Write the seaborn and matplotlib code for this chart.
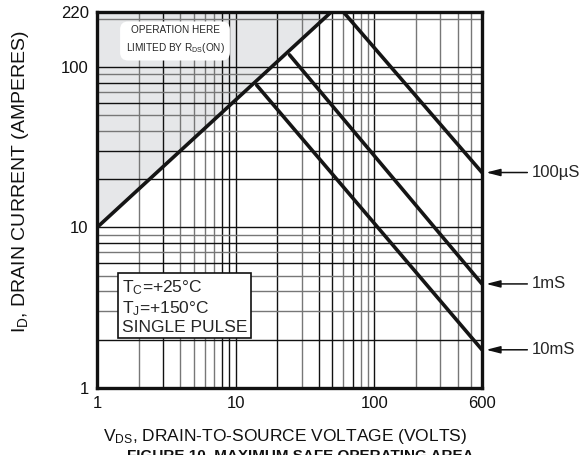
import numpy as np
import pandas as pd
import matplotlib
matplotlib.use("Agg")
import matplotlib.pyplot as plt
import seaborn as sns

# safe operating area boundaries (V_DS in volts, I_D in amperes)
rds_v = [1, 49]
rds_i = [10, 220]
flat_v = [49, 60]
flat_i = [220, 220]
us100_v = [60, 600]
us100_i = [220, 22]
ms1_v = [24.5, 600]
ms1_i = [119, 4.45]
ms10_v = [14.2, 600]
ms10_i = [77, 1.73]

pulse_labels = ["100µS", "1mS", "10mS"]
pulse_end_i = [us100_i[-1], ms1_i[-1], ms10_i[-1]]

x_ticks = [1, 10, 100, 600]
y_ticks = [1, 10, 100, 220]
x_grid = [1, 2, 3, 4, 5, 6, 7, 8, 9, 10, 20, 30, 40, 50, 60, 70, 80, 90,
          100, 200, 300, 400, 500, 600]
y_grid = [1, 2, 3, 4, 5, 6, 7, 8, 9, 10, 20, 30, 40, 50, 60, 70, 80, 90,
          100, 200]

sns.set_theme(style="white")
plt.rcParams["font.family"] = ["Liberation Sans", "DejaVu Sans"]
plt.rcParams["mathtext.fontset"] = "custom"
plt.rcParams["mathtext.rm"] = "Liberation Sans"
plt.rcParams["mathtext.it"] = "Liberation Sans"

fig = plt.figure(figsize=(5.83, 4.55), dpi=100)
ax = fig.add_axes([97 / 583, 1 - 388 / 455, 385 / 583, 376 / 455])
ax.set_xscale("log")
ax.set_yscale("log")
ax.set_xlim(1, 600)
ax.set_ylim(1, 220)

# shaded R_DS(on) limited region
xs = np.geomspace(rds_v[0], rds_v[1], 50)
slope = np.log(rds_i[1] / rds_i[0]) / np.log(rds_v[1] / rds_v[0])
ax.fill_between(xs, rds_i[0] * (xs / rds_v[0]) ** slope, 220,
                color="#e6e7e9", zorder=0.2, lw=0)

# grid (print has a mix of dark and grey rules)
for v in x_grid:
    c = "#111111" if v in (1, 3, 8, 9, 10, 20, 40, 50, 70, 100) else "#777777"
    ax.axvline(v, color=c, lw=1.0, zorder=1)
for v in y_grid:
    c = "#111111" if v in (2, 6, 8, 10, 20, 30, 60, 80, 100) else "#777777"
    ax.axhline(v, color=c, lw=1.0, zorder=1)

lines = [(rds_v, rds_i), (flat_v, flat_i), (us100_v, us100_i),
         (ms1_v, ms1_i), (ms10_v, ms10_i)]
for vv, ii in lines:
    sns.lineplot(x=vv, y=ii, ax=ax, color="#151515", lw=2.6, zorder=3,
                 estimator=None, sort=False)

ax.set_xticks(x_ticks)
ax.set_xticklabels([str(t) for t in x_ticks])
ax.set_yticks(y_ticks)
ax.set_yticklabels([str(t) for t in y_ticks])
ax.minorticks_off()
ax.tick_params(length=0, labelsize=12, colors="#111111", pad=6)
for s in ax.spines.values():
    s.set_linewidth(2.4)
    s.set_color("#111111")
    s.set_zorder(4)

ax.set_xlabel("V$_{DS}$, DRAIN-TO-SOURCE VOLTAGE (VOLTS)", fontsize=12.5,
              color="#111111")
ax.xaxis.set_label_coords(0.489, -0.105)
ax.set_ylabel("I$_D$, DRAIN CURRENT (AMPERES)", fontsize=14, color="#111111")
ax.yaxis.set_label_coords(-0.171, 0.548)

ax.text(0.2026, 0.9255, "OPERATION HERE\nLIMITED BY R$_{DS}$(ON)",
        transform=ax.transAxes, ha="center", va="center", fontsize=7.2,
        linespacing=1.6, zorder=5,
        bbox=dict(boxstyle="round,pad=0.55,rounding_size=0.8", fc="white",
                  ec="none"))

ax.text(0.064, 0.292, "T$_C$=+25°C\nT$_J$=+150°C\nSINGLE PULSE",
        transform=ax.transAxes, ha="left", va="top", fontsize=12.5,
        linespacing=1.15, zorder=5,
        bbox=dict(boxstyle="square,pad=0.22", fc="white", ec="#111111",
                  lw=1.2))

for lab, yi in zip(pulse_labels, pulse_end_i):
    ax.annotate(lab, xy=(600, yi), xytext=(36, 0), textcoords="offset points",
                ha="left", va="center", fontsize=12, annotation_clip=False,
                arrowprops=dict(arrowstyle="-|>,head_length=0.7,head_width=0.18",
                                color="#111111", lw=1.1, shrinkA=1, shrinkB=3))

fig.text(300 / 583, 1 - 449 / 455, "FIGURE 10. MAXIMUM SAFE OPERATING AREA",
         ha="center", va="top", fontsize=11, fontweight="bold", color="#111111")

fig.savefig("out.png", dpi=100)
